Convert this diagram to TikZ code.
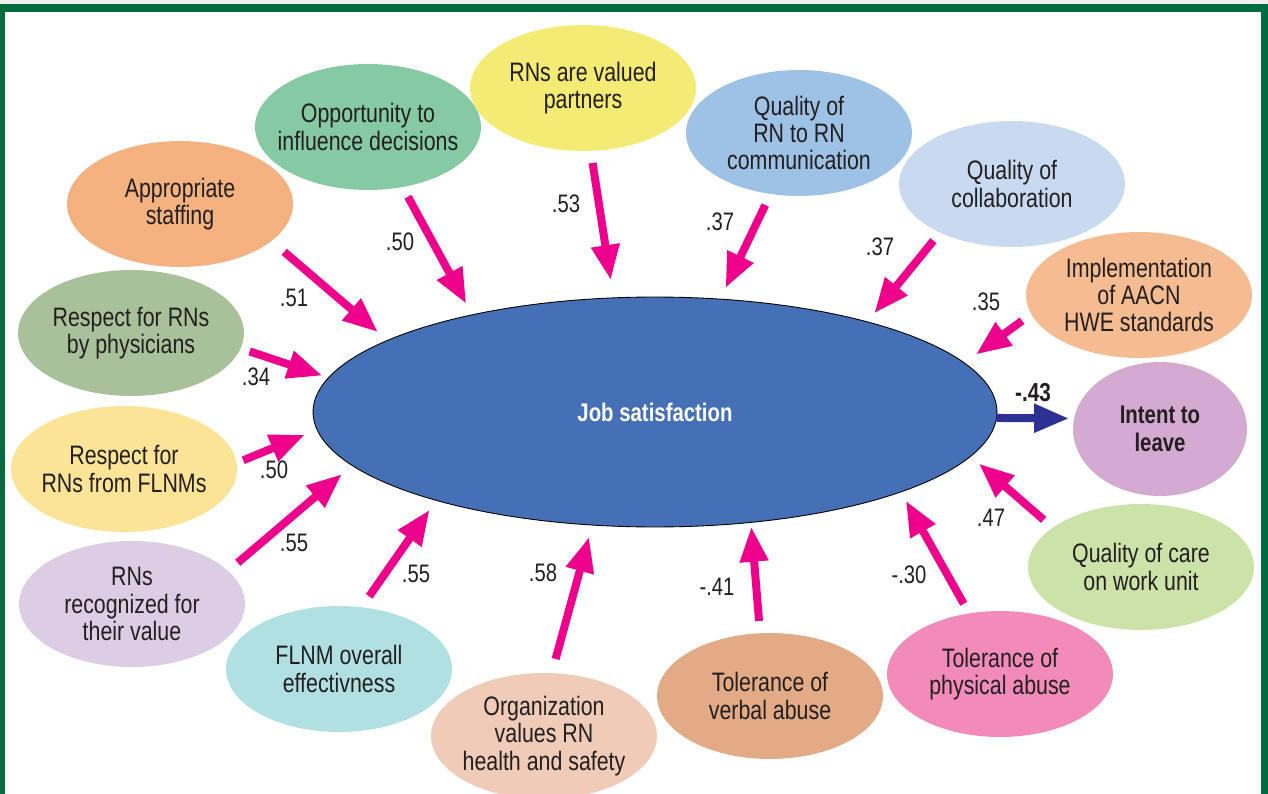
\documentclass[tikz,border=0pt]{standalone}
\usepackage{fontspec}
\setmainfont{Liberation Sans}[FakeStretch=0.8]
\usepackage{tikz}
\usetikzlibrary{shapes.geometric,arrows.meta}

\definecolor{cJob}{RGB}{69,112,182}
\definecolor{cIntent}{RGB}{212,170,208}
\definecolor{cStaff}{RGB}{243,178,128}
\definecolor{cOpp}{RGB}{134,202,164}
\definecolor{cPartner}{RGB}{243,235,116}
\definecolor{cComm}{RGB}{158,194,230}
\definecolor{cCollab}{RGB}{201,218,240}
\definecolor{cHwe}{RGB}{245,187,145}
\definecolor{cPhys}{RGB}{169,193,154}
\definecolor{cFlnm}{RGB}{251,228,150}
\definecolor{cValue}{RGB}{220,205,229}
\definecolor{cEffect}{RGB}{177,224,226}
\definecolor{cSafety}{RGB}{240,203,183}
\definecolor{cVerbal}{RGB}{226,171,133}
\definecolor{cPhysAb}{RGB}{242,139,185}
\definecolor{cCare}{RGB}{203,227,168}
\definecolor{cPink}{RGB}{236,0,140}
\definecolor{cNavy}{RGB}{46,49,146}
\definecolor{cFrame}{RGB}{0,107,63}
\definecolor{cTxt}{RGB}{35,31,32}

\tikzset{
	bub/.style={ellipse, minimum width=4.52cm, minimum height=2.52cm, inner sep=0pt, outer sep=0pt},
	lbl/.style={align=center, text=cTxt, inner sep=0pt, font=\fontsize{15.2}{15.6}\selectfont},
	coef/.style={text=cTxt, inner sep=0pt, font=\fontsize{14.4}{15}\selectfont},
	arr/.style={draw=cPink, line width=0.16cm, -{Triangle[length=0.7cm, width=0.54cm]}}
}

\begin{document}
\begin{tikzpicture}[x=0.02cm, y=-0.02cm]
			%%%%% START %%%%%
			\clip (0, 0) rectangle (1268, 794);
			\fill[black!6] (0, 0) rectangle (1268, 4);
			\fill[cFrame] (0, 4) rectangle (1268, 12.5);
			\fill[cFrame] (0, 4) rectangle (5, 794);
			\fill[cFrame] (1261, 4) rectangle (1268, 794);
			
			% centre
			\node[bub, minimum width=13.68cm, minimum height=4.6cm, fill=cJob, draw=black, line width=0.5pt,
				label={[lbl, text=white, font=\fontsize{14.5}{15}\selectfont\bfseries]center:Job satisfaction}] (job) at (655, 412) {};
			\node[bub, minimum width=3.48cm, minimum height=2.68cm, fill=cIntent,
				label={[lbl, font=\fontsize{14.5}{15.6}\selectfont\bfseries]center:Intent to\\leave}] (intent) at (1160, 429) {};
			
			% outer ring
			\node[bub, fill=cStaff, label={[lbl]center:Appropriate\\staffing}] (staff) at (180, 204) {};
			\node[bub, fill=cOpp, label={[lbl]center:Opportunity to\\influence decisions}] (opp) at (368, 127) {};
			\node[bub, fill=cPartner, label={[lbl]center:RNs are valued\\partners}] (partner) at (583, 88) {};
			\node[bub, fill=cComm, label={[lbl]center:Quality of\\RN to RN\\communication}] (comm) at (799, 133) {};
			\node[bub, fill=cCollab, label={[lbl]center:Quality of\\collaboration}] (collab) at (1012, 184) {};
			\node[bub, fill=cHwe, label={[lbl]center:Implementation\\of AACN\\HWE standards}] (hwe) at (1139, 295) {};
			\node[bub, fill=cPhys, label={[lbl]center:Respect for RNs\\by physicians}] (phys) at (131, 333) {};
			\node[bub, fill=cFlnm, label={[lbl]center:Respect for\\RNs from FLNMs}] (flnm) at (124, 469) {};
			\node[bub, fill=cValue, label={[lbl]center:RNs\\recognized for\\their value}] (value) at (132, 604) {};
			\node[bub, fill=cEffect, label={[lbl]center:FLNM overall\\effectivness}] (effect) at (339, 669) {};
			\node[bub, fill=cSafety, label={[lbl]center:Organization\\values RN\\health and safety}] (safety) at (544, 736) {};
			\node[bub, fill=cVerbal, label={[lbl]center:Tolerance of\\verbal abuse}] (verbal) at (770, 696) {};
			\node[bub, fill=cPhysAb, label={[lbl]center:Tolerance of\\physical abuse}] (physab) at (1000, 674) {};
			\node[bub, fill=cCare, label={[lbl]center:Quality of care\\on work unit}] (care) at (1141, 567) {};
			
			% arrows
			\draw[arr, shorten <=0.336cm, shorten >=0.254cm] (staff.-22.6) -- (job.165.7);
			\draw[arr, shorten <=0.224cm, shorten >=0.252cm] (opp.-60.8) -- (job.152.2);
			\draw[arr, shorten <=0.245cm, shorten >=0.362cm] (partner.-83.5) -- (job.110.8);
			\draw[arr, shorten <=0.245cm, shorten >=0.246cm] (comm.-115.2) -- (job.60.2);
			\draw[arr, shorten <=0.21cm, shorten >=0.222cm] (collab.-146.7) -- (job.23.9);
			\draw[arr, shorten <=0.229cm, shorten >=0.288cm] (hwe.-170.8) -- (job.9.7);
			\draw[arr, shorten <=0.192cm, shorten >=0.132cm] (phys.-8.8) -- (job.174.3);
			\draw[arr, shorten <=0.146cm, shorten >=0.266cm] (flnm.3.7) -- (job.-177.3);
			\draw[arr, shorten <=0.252cm, shorten >=0.269cm] (value.19.3) -- (job.-170.8);
			\draw[arr, shorten <=0.268cm, shorten >=0.232cm] (effect.70.8) -- (job.-158.6);
			\draw[arr, shorten <=0.294cm, shorten >=0.248cm] (safety.83.5) -- (job.-119);
			\draw[arr, shorten <=0.247cm, shorten >=0.088cm] (verbal.99.8) -- (job.-49.8);
			\draw[arr, shorten <=0.221cm, shorten >=0.202cm] (physab.117.4) -- (job.-18.6);
			\draw[arr, shorten <=0.24cm, shorten >=0.22cm] (care.156.9) -- (job.-8.3);
			\draw[arr, draw=cNavy, shorten >=0.1cm] (job.-1) -- (intent.173.4);
			
			% coefficients
			\node[coef] (k51) at (294, 298) {.51};
			\node[coef] (k50a) at (400, 242) {.50};
			\node[coef] (k53) at (566, 204) {.53};
			\node[coef] (k37a) at (720, 222) {.37};
			\node[coef] (k37b) at (880, 247) {.37};
			\node[coef] (k35) at (986, 302) {.35};
			\node[coef] (k34) at (256, 377) {.34};
			\node[coef] (k50b) at (274, 470) {.50};
			\node[coef] (k55a) at (294, 543) {.55};
			\node[coef] (k55b) at (416, 574) {.55};
			\node[coef] (k58) at (543, 573) {.58};
			\node[coef] (k41) at (717, 587) {-.41};
			\node[coef] (k30) at (909, 575) {-.30};
			\node[coef] (k47) at (991, 518) {.47};
			\node[coef, font=\fontsize{14.8}{15}\selectfont\bfseries] (k43) at (1033, 393) {-.43};
			%%%%% END %%%%%
\end{tikzpicture}
\end{document}
